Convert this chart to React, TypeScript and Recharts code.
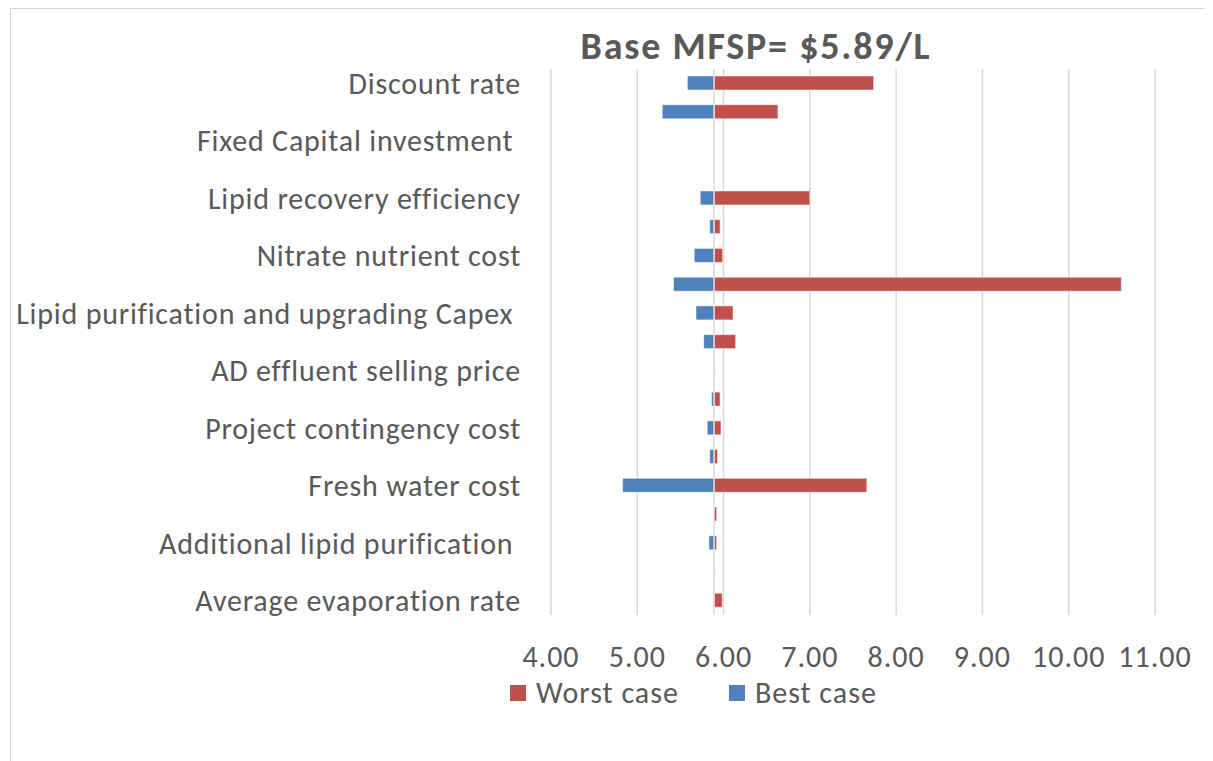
import React from "react";
import { BarChart, Bar, XAxis, YAxis, CartesianGrid, Legend, ReferenceLine } from "recharts";

const BASE_MFSP = 5.89;

const categories = [
  "Discount rate",
  "",
  "Fixed Capital investment ",
  "",
  "Lipid recovery efficiency",
  "",
  "Nitrate nutrient cost",
  "",
  "Lipid purification and upgrading Capex ",
  "",
  "AD effluent selling price",
  "",
  "Project contingency cost",
  "",
  "Fresh water cost",
  "",
  "Additional lipid purification ",
  "",
  "Average evaporation rate",
];

const bestCase: (number | null)[] = [
  5.58, 5.29, null, null, 5.73, 5.84, 5.66, 5.42, 5.68, 5.77,
  null, 5.86, 5.81, 5.84, 4.83, null, 5.83, null, null,
];

const worstCase: (number | null)[] = [
  7.74, 6.63, null, null, 7.0, 5.96, 5.99, 10.61, 6.11, 6.14,
  5.9, 5.96, 5.97, 5.93, 7.66, 5.92, 5.92, 5.9, 5.985,
];

const xTicks = [4, 5, 6, 7, 8, 9, 10, 11];
const seriesNames = ["Worst case", "Best case"];

// bars are ranges that start at the base MFSP
const rows = categories.map((name, i) => ({
  row: i,
  name,
  best: bestCase[i] == null ? [BASE_MFSP, BASE_MFSP] : [bestCase[i], BASE_MFSP],
  worst: worstCase[i] == null ? [BASE_MFSP, BASE_MFSP] : [BASE_MFSP, worstCase[i]],
}));

const FONT = "Calibri, Carlito, Lato, sans-serif";
const TEXT = "#595959";

// keep trailing spaces visible (svg text would drop them)
const categoryLabel = (i: number) => (categories[i] || "").replace(/ $/, "\u00A0");

function LegendContent({ payload }: any) {
  const items = seriesNames
    .map((n) => (payload || []).find((p: any) => p.value === n))
    .filter(Boolean);
  return (
    <div
      style={{
        display: "flex",
        alignItems: "center",
        fontFamily: FONT,
        fontSize: 30,
        letterSpacing: 1,
        color: TEXT,
      }}
    >
      {items.map((p: any) => (
        <div key={p.value} style={{ display: "flex", alignItems: "center", marginRight: 50 }}>
          <span style={{ width: 16, height: 16, background: p.color, marginRight: 10, display: "inline-block" }} />
          <span>{p.value}</span>
        </div>
      ))}
    </div>
  );
}

export default function App() {
  return (
    <div
      style={{
        position: "relative",
        marginLeft: 2,
        width: 1195,
        height: 760,
        border: "1px solid #D9D9D9",
        background: "#fff",
      }}
    >
      <div
        style={{
          position: "absolute",
          left: 745,
          top: 21,
          transform: "translateX(-50%)",
          whiteSpace: "nowrap",
          fontFamily: FONT,
          fontWeight: 700,
          fontSize: 38,
          letterSpacing: 1.8,
          lineHeight: "32px",
          color: TEXT,
        }}
      >
        Base MFSP= $5.89/L
      </div>
      <BarChart
        width={1195}
        height={752}
        data={rows}
        layout="vertical"
        margin={{ top: 60, right: 51, left: 0, bottom: 106 }}
      >
        <CartesianGrid yAxisId="a" horizontal={false} stroke="#D9D9D9" strokeWidth={1.5} />
        <XAxis
          type="number"
          domain={[4, 11]}
          ticks={xTicks}
          tickFormatter={(v: number) => v.toFixed(2)}
          axisLine={false}
          tickLine={false}
          tickSize={0}
          tickMargin={31}
          height={40}
          tick={{ fill: TEXT, fontSize: 30, fontFamily: FONT, letterSpacing: 1 }}
        />
        <YAxis
          yAxisId="a"
          type="category"
          dataKey="row"
          width={540}
          interval={0}
          tickFormatter={categoryLabel}
          axisLine={false}
          tickLine={false}
          tickSize={0}
          tickMargin={30}
          tick={{ fill: TEXT, fontSize: 30, fontFamily: FONT, letterSpacing: 0.8 }}
        />
        <YAxis yAxisId="b" type="category" dataKey="row" hide />
        <ReferenceLine yAxisId="a" x={BASE_MFSP} stroke="#D9D9D9" strokeWidth={1.5} />
        <Bar
          yAxisId="a"
          dataKey="worst"
          name="Worst case"
          fill="#C0504D"
          stroke="#ffffff"
          strokeOpacity={0.5}
          barSize={14}
          isAnimationActive={false}
        />
        <Bar
          yAxisId="b"
          dataKey="best"
          name="Best case"
          fill="#4F81BD"
          stroke="#ffffff"
          strokeOpacity={0.5}
          barSize={14}
          isAnimationActive={false}
        />
        <Legend
          verticalAlign="middle"
          content={<LegendContent />}
          wrapperStyle={{ top: 665, left: 499, width: 500 }}
        />
      </BarChart>
    </div>
  );
}
